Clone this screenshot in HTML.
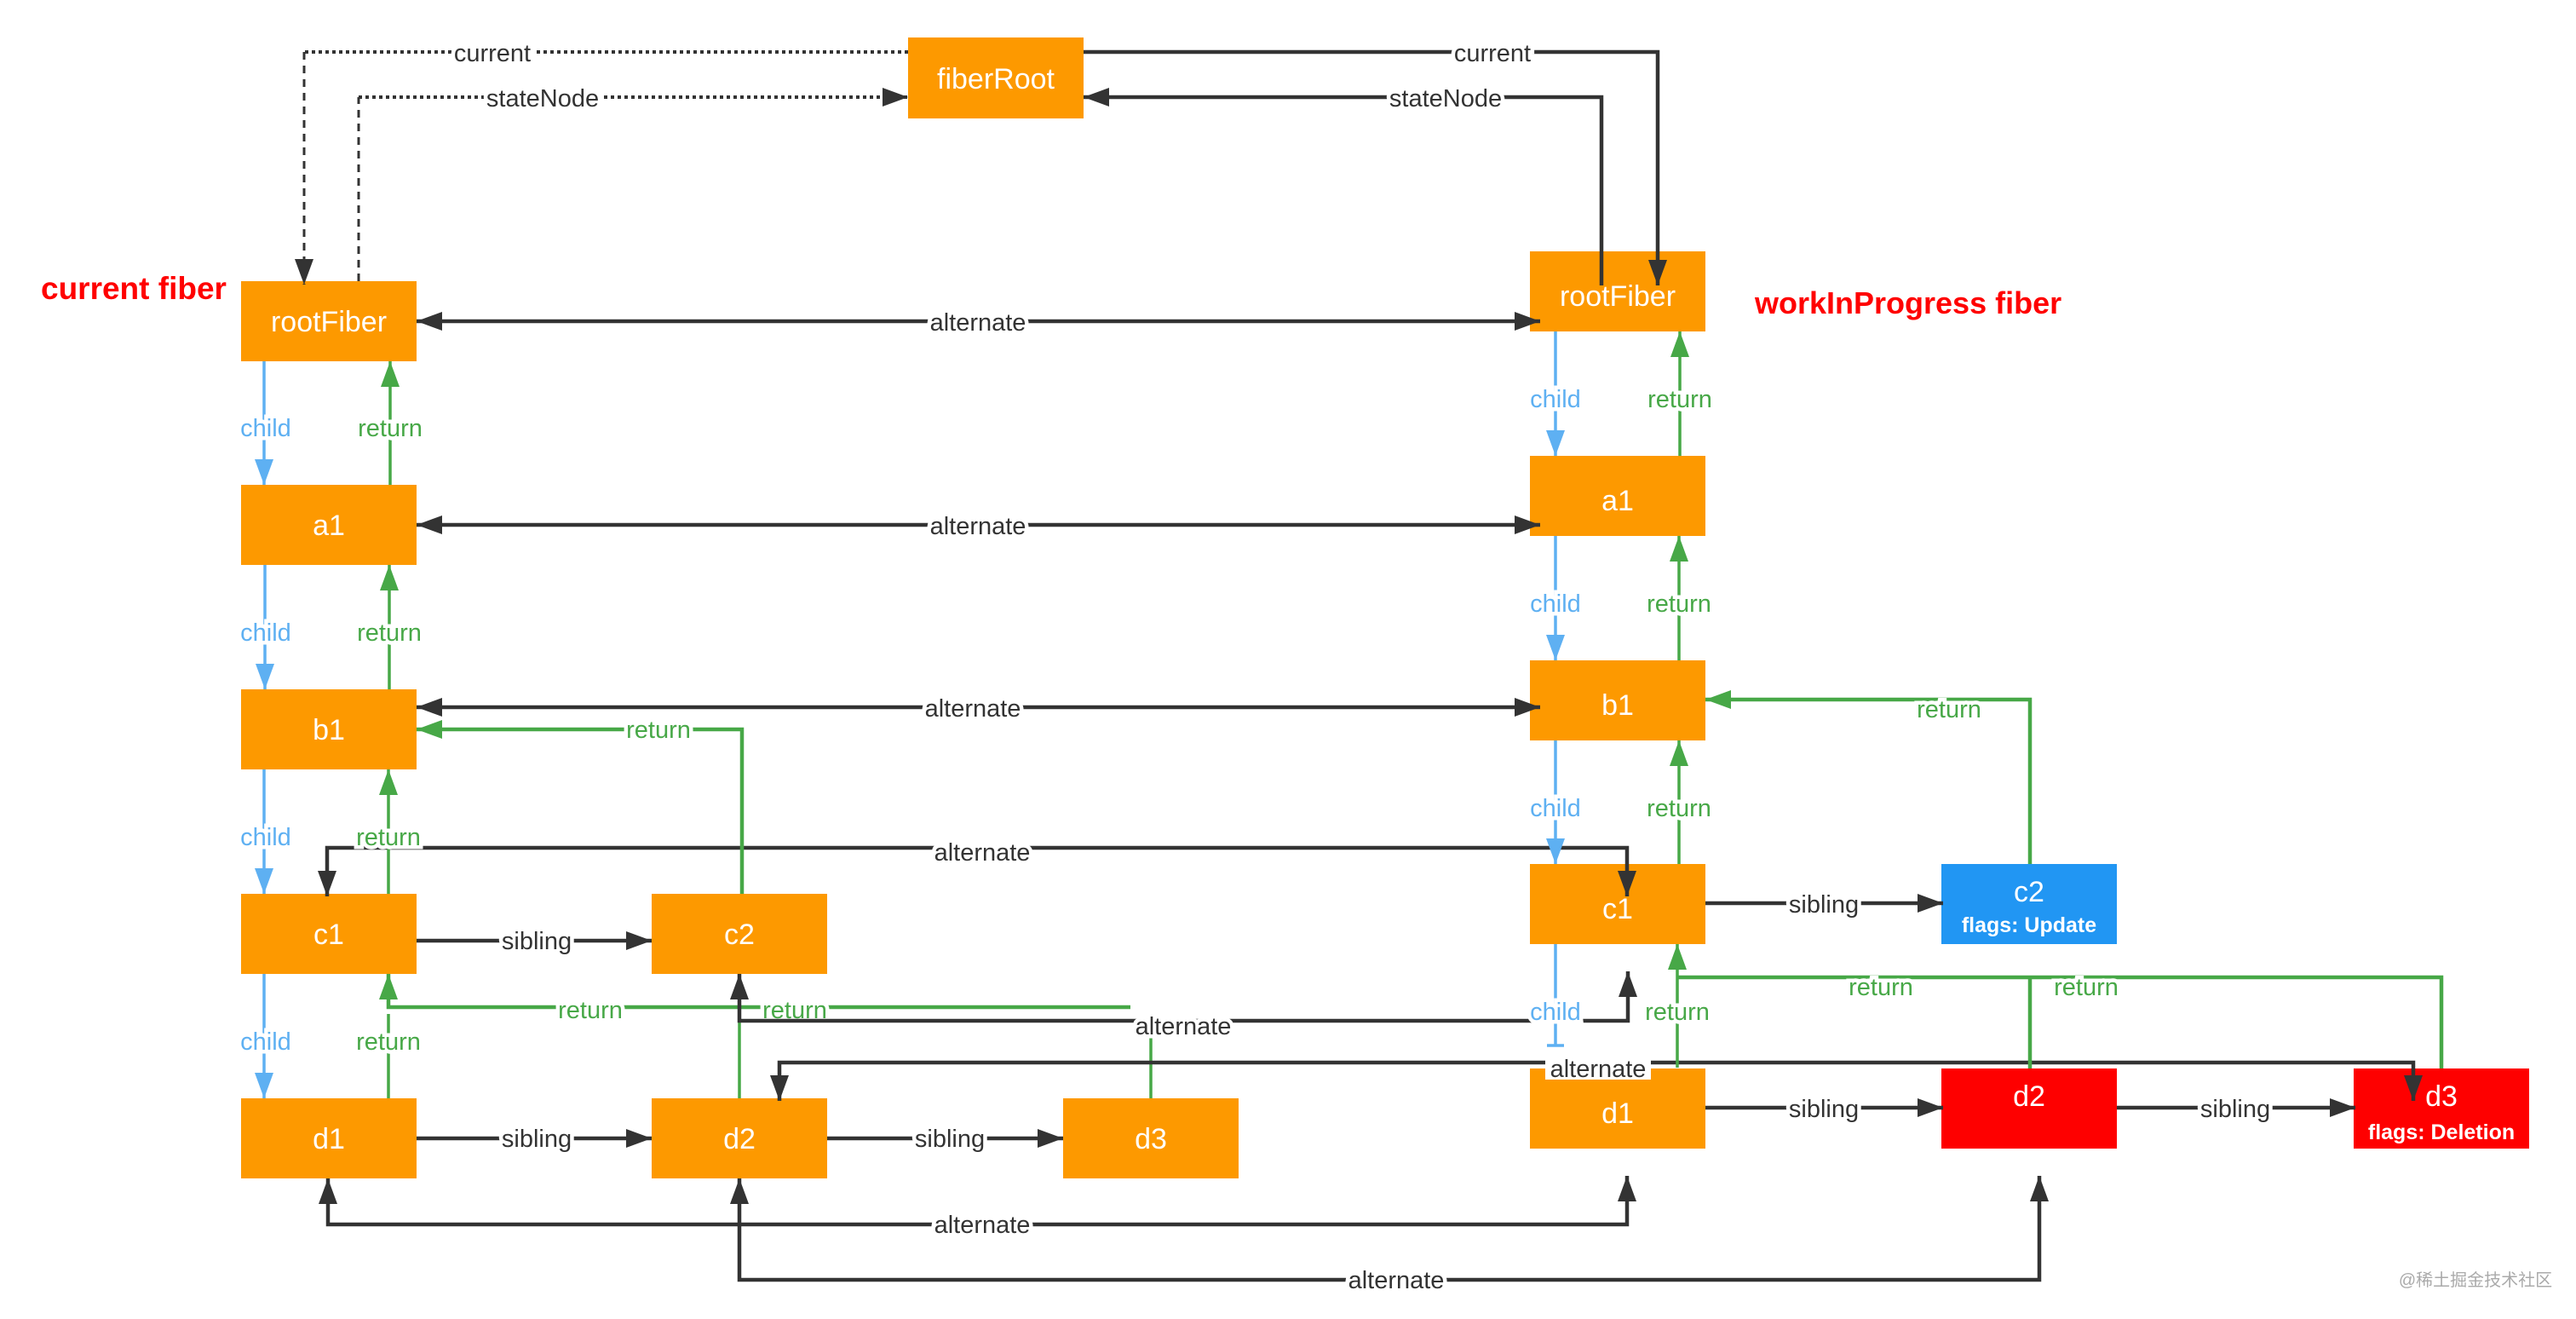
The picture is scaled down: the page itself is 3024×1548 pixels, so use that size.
<!DOCTYPE html>
<html><head><meta charset="utf-8"><style>
html,body{margin:0;padding:0;background:#fff;}
svg{display:block;}
text{font-family:"Liberation Sans","Noto Sans CJK SC",sans-serif;}
.n{fill:#fff;font-size:34px;text-anchor:middle;}
.l{fill:#333;font-size:29px;text-anchor:middle;stroke:#fff;stroke-width:9px;paint-order:stroke;}
.g{fill:#47a847;font-size:29px;text-anchor:middle;stroke:#fff;stroke-width:9px;paint-order:stroke;}
.b{fill:#5eb0f2;font-size:29px;text-anchor:middle;stroke:#fff;stroke-width:9px;paint-order:stroke;}
.k{fill:none;stroke:#333;stroke-width:4.5;}
.gl{fill:none;stroke:#47a847;stroke-width:3.5;}
.bl{fill:none;stroke:#5eb0f2;stroke-width:3.5;}
</style></head><body>
<svg width="3024" height="1548" viewBox="0 0 3024 1548" xmlns="http://www.w3.org/2000/svg">
<defs>
<marker id="ak" markerUnits="userSpaceOnUse" markerWidth="32" markerHeight="22" refX="30" refY="11" orient="auto-start-reverse"><path d="M0,0 L30,11 L0,22 z" fill="#333"/></marker>
<marker id="ag" markerUnits="userSpaceOnUse" markerWidth="32" markerHeight="22" refX="30" refY="11" orient="auto"><path d="M0,0 L30,11 L0,22 z" fill="#47a847"/></marker>
<marker id="ab" markerUnits="userSpaceOnUse" markerWidth="32" markerHeight="22" refX="30" refY="11" orient="auto"><path d="M0,0 L30,11 L0,22 z" fill="#5eb0f2"/></marker>
</defs>

<g fill="#fd9900">
<rect x="1066" y="44" width="206" height="95"/>
<rect x="283" y="330" width="206" height="94"/>
<rect x="283" y="569" width="206" height="94"/>
<rect x="283" y="809" width="206" height="94"/>
<rect x="283" y="1049" width="206" height="94"/>
<rect x="283" y="1289" width="206" height="94"/>
<rect x="765" y="1049" width="206" height="94"/>
<rect x="765" y="1289" width="206" height="94"/>
<rect x="1248" y="1289" width="206" height="94"/>
<rect x="1796" y="295" width="206" height="94"/>
<rect x="1796" y="535" width="206" height="94"/>
<rect x="1796" y="775" width="206" height="94"/>
<rect x="1796" y="1014" width="206" height="94"/>
<rect x="1796" y="1254" width="206" height="94"/>
</g>
<rect x="2279" y="1014" width="206" height="94" fill="#2196f3"/>
<rect x="2279" y="1254" width="206" height="94" fill="#fe0000"/>
<rect x="2763" y="1254" width="206" height="94" fill="#fe0000"/>

<path d="M1066,61 L357,61" fill="none" stroke="#333" stroke-width="4" stroke-dasharray="4 4"/>
<path d="M357,61 L357,334" fill="none" stroke="#333" stroke-width="3" stroke-dasharray="9 7" marker-end="url(#ak)"/>
<path d="M421,330 L421,114" fill="none" stroke="#333" stroke-width="3" stroke-dasharray="9 7"/>
<path d="M421,114 L1066,114" fill="none" stroke="#333" stroke-width="4" stroke-dasharray="4 4" marker-end="url(#ak)"/>
<text class="l" x="578" y="72">current</text>
<text class="l" x="637" y="125">stateNode</text>

<path class="k" d="M1272,61 L1946,61 L1946,335" marker-end="url(#ak)"/>
<path class="k" d="M1880,335 L1880,114 L1272,114" marker-end="url(#ak)"/>
<text class="l" x="1752" y="72">current</text>
<text class="l" x="1697" y="125">stateNode</text>

<path class="k" d="M489,377 L1808,377" marker-start="url(#ak)" marker-end="url(#ak)"/>
<path class="k" d="M489,616 L1808,616" marker-start="url(#ak)" marker-end="url(#ak)"/>
<path class="k" d="M489,830 L1808,830" marker-start="url(#ak)" marker-end="url(#ak)"/>
<text class="l" x="1148" y="388">alternate</text>
<text class="l" x="1148" y="627">alternate</text>
<text class="l" x="1142" y="841">alternate</text>

<path class="k" d="M384,1052 L384,995 L1910,995 L1910,1052" marker-start="url(#ak)" marker-end="url(#ak)"/>
<text class="l" x="1153" y="1010">alternate</text>

<path class="gl" d="M871,1049 L871,856 L489,856" marker-end="url(#ag)" style="stroke-width:4.5"/>
<text class="g" x="773" y="866">return</text>
<path class="gl" d="M868,1289 L868,1182"/>
<path class="gl" d="M1327,1182 L456,1182 L456,1143" marker-end="url(#ag)" style="stroke-width:4.5"/>
<path class="gl" d="M1351,1289 L1351,1217"/>
<text class="g" x="693" y="1195">return</text>
<text class="g" x="933" y="1195">return</text>

<path class="k" d="M868,1143 L868,1198 L1911,1198 L1911,1140" marker-start="url(#ak)" marker-end="url(#ak)"/>
<text class="l" x="1389" y="1214">alternate</text>

<path class="k" d="M915,1292 L915,1247 L2833,1247 L2833,1292" marker-start="url(#ak)" marker-end="url(#ak)"/>
<rect x="1814" y="1241" width="124" height="26" fill="#fff"/>
<text x="1876" y="1264" style="fill:#333;font-size:29px;text-anchor:middle">alternate</text>

<path class="k" d="M385,1383 L385,1437 L1910,1437 L1910,1380" marker-start="url(#ak)" marker-end="url(#ak)"/>
<text class="l" x="1153" y="1447">alternate</text>
<path class="k" d="M868,1383 L868,1502 L2394,1502 L2394,1380" marker-start="url(#ak)" marker-end="url(#ak)"/>
<text class="l" x="1639" y="1512">alternate</text>

<g>
<path class="bl" d="M310,424 L310,569" marker-end="url(#ab)"/>
<path class="gl" d="M458,569 L458,424" marker-end="url(#ag)"/>
<text class="b" x="312" y="512">child</text><text class="g" x="458" y="512">return</text>
<path class="bl" d="M311,663 L311,809" marker-end="url(#ab)"/>
<path class="gl" d="M457,809 L457,663" marker-end="url(#ag)"/>
<text class="b" x="312" y="752">child</text><text class="g" x="457" y="752">return</text>
<path class="bl" d="M310,903 L310,1049" marker-end="url(#ab)"/>
<path class="gl" d="M456,1049 L456,903" marker-end="url(#ag)"/>
<text class="b" x="312" y="992">child</text><text class="g" x="456" y="992">return</text>
<path class="bl" d="M310,1143 L310,1289" marker-end="url(#ab)"/>
<path class="gl" d="M456,1289 L456,1190"/>
<text class="b" x="312" y="1232">child</text><text class="g" x="456" y="1232">return</text>
</g>

<g>
<path class="bl" d="M1826,389 L1826,535" marker-end="url(#ab)"/>
<path class="gl" d="M1972,535 L1972,389" marker-end="url(#ag)"/>
<text class="b" x="1826" y="478">child</text><text class="g" x="1972" y="478">return</text>
<path class="bl" d="M1826,629 L1826,775" marker-end="url(#ab)"/>
<path class="gl" d="M1971,775 L1971,629" marker-end="url(#ag)"/>
<text class="b" x="1826" y="718">child</text><text class="g" x="1971" y="718">return</text>
<path class="bl" d="M1826,869 L1826,1014" marker-end="url(#ab)"/>
<path class="gl" d="M1971,1014 L1971,869" marker-end="url(#ag)"/>
<text class="b" x="1826" y="958">child</text><text class="g" x="1971" y="958">return</text>
<path class="bl" d="M1826,1108 L1826,1227 M1816,1227 L1836,1227"/>
<path class="gl" d="M1969,1253 L1969,1108" marker-end="url(#ag)"/>
<text class="b" x="1826" y="1197">child</text><text class="g" x="1969" y="1197">return</text>
</g>

<path class="gl" d="M2383,1014 L2383,821 L2002,821" marker-end="url(#ag)" style="stroke-width:4.5"/>
<text class="g" x="2288" y="842">return</text>
<path class="gl" d="M2383,1254 L2383,1147 M2866,1254 L2866,1147 L1969,1147" style="stroke-width:4.5"/>
<text class="g" x="2208" y="1168">return</text>
<text class="g" x="2449" y="1168">return</text>

<path class="k" d="M489,1104 L765,1104" marker-end="url(#ak)"/>
<text class="l" x="630" y="1114">sibling</text>
<path class="k" d="M489,1336 L765,1336" marker-end="url(#ak)"/>
<text class="l" x="630" y="1346">sibling</text>
<path class="k" d="M971,1336 L1248,1336" marker-end="url(#ak)"/>
<text class="l" x="1115" y="1346">sibling</text>
<path class="k" d="M2002,1060 L2281,1060" marker-end="url(#ak)"/>
<text class="l" x="2141" y="1071">sibling</text>
<path class="k" d="M2002,1300 L2281,1300" marker-end="url(#ak)"/>
<text class="l" x="2141" y="1311">sibling</text>
<path class="k" d="M2485,1300 L2765,1300" marker-end="url(#ak)"/>
<text class="l" x="2624" y="1311">sibling</text>

<text class="n" x="1169" y="104">fiberRoot</text>
<text class="n" x="386" y="389">rootFiber</text>
<text class="n" x="386" y="628">a1</text>
<text class="n" x="386" y="868">b1</text>
<text class="n" x="386" y="1108">c1</text>
<text class="n" x="386" y="1348">d1</text>
<text class="n" x="868" y="1108">c2</text>
<text class="n" x="868" y="1348">d2</text>
<text class="n" x="1351" y="1348">d3</text>
<text class="n" x="1899" y="359">rootFiber</text>
<text class="n" x="1899" y="599">a1</text>
<text class="n" x="1899" y="839">b1</text>
<text class="n" x="1899" y="1078">c1</text>
<text class="n" x="1899" y="1318">d1</text>
<text class="n" x="2382" y="1058">c2</text>
<text x="2382" y="1094" style="fill:#fff;font-size:25px;font-weight:bold;text-anchor:middle">flags: Update</text>
<text class="n" x="2382" y="1298">d2</text>
<text class="n" x="2866" y="1298">d3</text>
<text x="2866" y="1337" style="fill:#fff;font-size:25px;font-weight:bold;text-anchor:middle">flags: Deletion</text>

<text x="48" y="351" style="fill:#f00;font-size:37px;font-weight:bold">current fiber</text>
<text x="2060" y="368" style="fill:#f00;font-size:36px;font-weight:bold">workInProgress fiber</text>

<text x="2906" y="1509" style="fill:#aaa;font-size:20px;text-anchor:middle">@稀土掘金技术社区</text>
</svg>
</body></html>
